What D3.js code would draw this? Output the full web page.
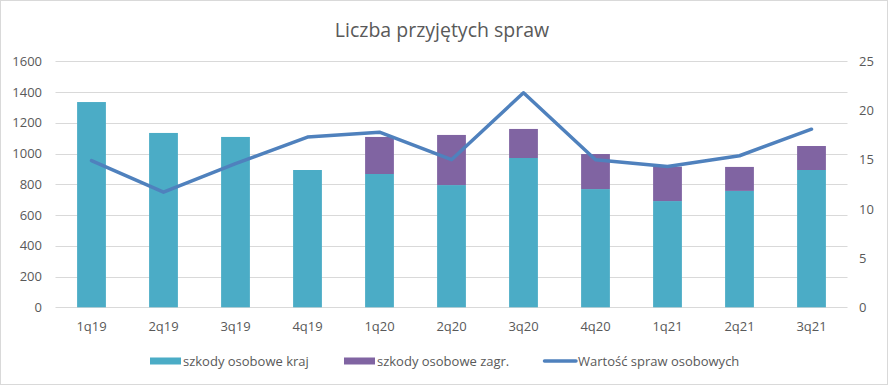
<!DOCTYPE html>
<html>
<head>
<meta charset="utf-8">
<script src="https://cdn.jsdelivr.net/npm/d3@7"></script>
<style>
  body { margin: 0; background: #fff; }
  svg { display: block; }
  text { font-family: "Open Sans", sans-serif; fill: #595959; }
</style>
</head>
<body>
<svg width="888" height="385"></svg>
<script>
// data
var quarters = ["1q19", "2q19", "3q19", "4q19", "1q20", "2q20", "3q20", "4q20", "1q21", "2q21", "3q21"];
var kraj = [1335, 1134, 1108, 893, 867, 795, 971, 769, 691, 757, 893];
var zagr = [0, 0, 0, 0, 241, 326, 189, 228, 224, 156, 156];
var wartosc = [14.9, 11.7, 14.6, 17.3, 17.8, 15.0, 21.8, 15.0, 14.3, 15.4, 18.1];
var leftTicks = [0, 200, 400, 600, 800, 1000, 1200, 1400, 1600];
var rightTicks = [0, 5, 10, 15, 20, 25];
var legendNames = ["szkody osobowe kraj", "szkody osobowe zagr.", "Wartość spraw osobowych"];

var svg = d3.select("svg"),
    W = 888, H = 385,
    plot = { left: 55.5, right: 847.5, top: 61.3, bottom: 307.3 };

var colKraj = "#4bacc6", colZagr = "#8064a2", colLine = "#4f81bd";

svg.append("rect")
    .attr("x", 0.5).attr("y", 0.5).attr("width", W - 1).attr("height", H - 1)
    .attr("fill", "#fff").attr("stroke", "#d9d9d9");

var x = d3.scaleBand().domain(quarters).range([plot.left, plot.right]).paddingInner(0.6).paddingOuter(0.3);
var y = d3.scaleLinear().domain([0, 1600]).range([plot.bottom, plot.top]);
var y2 = d3.scaleLinear().domain([0, 25]).range([plot.bottom, plot.top]);

// gridlines
svg.append("g").selectAll("line")
  .data(leftTicks)
  .enter().append("line")
    .attr("x1", plot.left).attr("x2", plot.right)
    .attr("y1", function(d) { return Math.round(y(d)) + 0.5; })
    .attr("y2", function(d) { return Math.round(y(d)) + 0.5; })
    .attr("stroke", "#d9d9d9").attr("stroke-width", 1);

// bars
var rows = quarters.map(function(q, i) { return { q: q, kraj: kraj[i], zagr: zagr[i] }; });
var stacked = d3.stack().keys(["kraj", "zagr"])(rows);
var colors = [colKraj, colZagr];

svg.append("g").selectAll("g")
  .data(stacked)
  .enter().append("g")
    .attr("fill", function(d, i) { return colors[i]; })
  .selectAll("rect")
  .data(function(d) { return d; })
  .enter().append("rect")
    .attr("x", function(d) { return x(d.data.q); })
    .attr("width", x.bandwidth())
    .attr("y", function(d) { return y(d[1]); })
    .attr("height", function(d) { return y(d[0]) - y(d[1]); });

// line
var line = d3.line()
    .x(function(d, i) { return x(quarters[i]) + x.bandwidth() / 2; })
    .y(function(d) { return y2(d); });

svg.append("path")
    .datum(wartosc)
    .attr("d", line)
    .attr("fill", "none")
    .attr("stroke", colLine)
    .attr("stroke-width", 3.5)
    .attr("stroke-linecap", "round")
    .attr("stroke-linejoin", "round");

// axes
var leftAxis = svg.append("g")
    .attr("transform", "translate(" + 42 + ",0)")
    .call(d3.axisLeft(y).tickValues(leftTicks).tickFormat(d3.format("d")).tickSize(0).tickPadding(0));
var rightAxis = svg.append("g")
    .attr("transform", "translate(" + 859 + ",0)")
    .call(d3.axisRight(y2).tickValues(rightTicks).tickFormat(d3.format("d")).tickSize(0).tickPadding(0));
var bottomAxis = svg.append("g")
    .attr("transform", "translate(0," + (plot.bottom + 8) + ")")
    .call(d3.axisBottom(x).tickSize(0).tickPadding(6));

[leftAxis, rightAxis, bottomAxis].forEach(function(a) {
  a.select(".domain").remove();
  a.selectAll("text")
    .style("font-family", "'Open Sans', sans-serif")
    .style("font-size", "13px")
    .attr("fill", "#595959");
});

// title
svg.append("text")
    .attr("x", 442).attr("y", 37)
    .attr("text-anchor", "middle")
    .style("font-size", "19.5px")
    .text("Liczba przyjętych spraw");

// legend
var legendX = [150, 344, 543];
var lg = svg.append("g").selectAll("g")
  .data(legendNames)
  .enter().append("g")
    .attr("transform", function(d, i) { return "translate(" + legendX[i] + ",361)"; });

lg.each(function(d, i) {
  var g = d3.select(this);
  if (i < 2) {
    g.append("rect").attr("x", 0).attr("y", -3.5).attr("width", 31).attr("height", 7).attr("fill", colors[i]);
  } else {
    g.append("line").attr("x1", 1.5).attr("x2", 33).attr("y1", 0).attr("y2", 0)
      .attr("stroke", colLine).attr("stroke-width", 3.5).attr("stroke-linecap", "round");
  }
  g.append("text")
    .attr("x", i < 2 ? 33 : 35).attr("y", 4.5)
    .style("font-size", "13px")
    .text(d);
});
</script>
</body>
</html>
